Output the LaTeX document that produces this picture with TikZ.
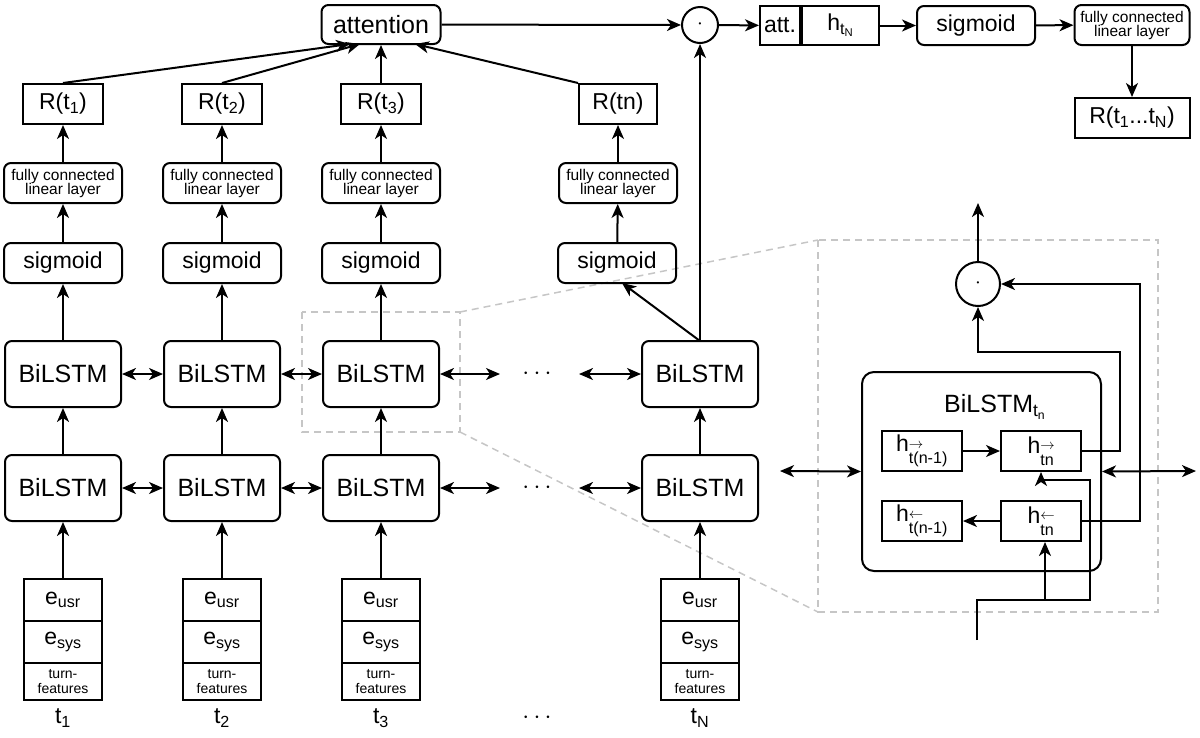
\documentclass[tikz,border=0pt]{standalone}
\usepackage{fontspec}
\setmainfont{Liberation Sans}
\usetikzlibrary{arrows.meta}
\begin{document}
\begin{tikzpicture}[x=1pt,y=-1pt,
 ar/.style={-{Stealth[length=14pt,width=12pt,inset=4pt]},line width=2pt},
 dar/.style={{Stealth[length=14pt,width=12pt,inset=4pt]}-{Stealth[length=14pt,width=12pt,inset=4pt]},line width=2pt},
 rb/.style={draw,line width=2pt,rounded corners=7pt,inner sep=0pt},
 sq/.style={draw,line width=2pt,inner sep=0pt},
 big/.style={font=\fontsize{25}{28}\selectfont},
 mid/.style={font=\fontsize{23}{26}\selectfont},
 sm/.style={font=\fontsize{15.5}{16}\selectfont,align=center},
 tfs/.style={font=\fontsize{14}{15}\selectfont,align=center},
 dsh/.style={draw=gray!45,line width=1.5pt,dash pattern=on 7pt off 5pt}]
\useasboundingbox (0,0) rectangle (1200,737);
% dashed zoom
\draw[dsh] (302,312) rectangle (460,432);
\draw[dsh] (818,240) rectangle (1158,612);
\draw[dsh] (460,312) -- (818,240);
\draw[dsh] (460,432) -- (818,612);
% columns
\foreach \i/\x/\lab in {1/63/1,2/222/2,3/381/3}{
 \node[rb,big,minimum width=116,minimum height=66] (bt\i) at (\x,374) {BiLSTM};
 \node[rb,big,minimum width=116,minimum height=66] (bb\i) at (\x,488) {BiLSTM};
 \node[rb,mid,minimum width=118,minimum height=40] (s\i) at (\x,263) {sigmoid};
 \node[rb,sm,minimum width=118,minimum height=40] (f\i) at (\x,183) {fully connected\\[-2pt]linear layer};
 \node[sq,mid,minimum width=80,minimum height=40] (r\i) at (\x,104) {R(t\textsubscript{\lab})};
 \node[sq,mid,minimum width=78,minimum height=42] (eu\i) at (\x,600) {e\textsubscript{usr}};
 \node[sq,mid,minimum width=78,minimum height=42] (es\i) at (\x,642) {e\textsubscript{sys}};
 \node[sq,tfs,minimum width=78,minimum height=37] (tf\i) at (\x,681.5) {turn-\\features};
 \node[mid] (t\i) at (\x,718) {t\textsubscript{\lab}};
}
\node[rb,big,minimum width=116,minimum height=66] (btN) at (700,374) {BiLSTM};
\node[rb,big,minimum width=116,minimum height=66] (bbN) at (700,488) {BiLSTM};
\node[rb,mid,minimum width=118,minimum height=40] (sN) at (617,263) {sigmoid};
\node[rb,sm,minimum width=118,minimum height=40] (fN) at (618,183) {fully connected\\[-2pt]linear layer};
\node[sq,mid,minimum width=78,minimum height=40] (rN) at (618,104) {R(tn)};
\node[sq,mid,minimum width=78,minimum height=42] (euN) at (700,600) {e\textsubscript{usr}};
\node[sq,mid,minimum width=78,minimum height=42] (esN) at (700,642) {e\textsubscript{sys}};
\node[sq,tfs,minimum width=78,minimum height=37] (tfN) at (700,681.5) {turn-\\features};
\node[mid] (tN) at (700,718) {t\textsubscript{N}};
\node[mid] (d1) at (537,374) {$\cdots$};
\node[mid] (d2) at (537,488) {$\cdots$};
\node[mid] (d3) at (537,718) {$\cdots$};
\foreach \i in {1,2,3,N}{
 \draw[ar] (eu\i) -- (bb\i);
 \draw[ar] (bb\i) -- (bt\i);
}
\foreach \i in {1,2,3}{
 \draw[ar] (bt\i) -- (s\i);
 \draw[ar] (s\i) -- (f\i);
 \draw[ar] (f\i) -- (r\i);
}
\draw[ar] (sN) -- (fN); \draw[ar] (fN) -- (rN);
\foreach \r in {bt,bb}{
 \draw[dar] (\r1) -- (\r2); \draw[dar] (\r2) -- (\r3);
 \draw[dar] (\r3.east) -- ++(60,0) coordinate (\r x);
 \draw[dar] (\r N.west) -- ++(-62,0);
}
% top
\node[rb,big,minimum width=119,minimum height=39] (att) at (381,24.5) {attention};
\node[circle,draw,line width=2pt,minimum size=36,inner sep=0pt,font=\fontsize{8}{8}\selectfont] (dot) at (700,25) {\textbullet};
\node[sq,mid,minimum width=40,minimum height=39] (atb) at (780,25.5) {att.};
\node[sq,mid,minimum width=77,minimum height=39,anchor=west] (htn) at (atb.east) {h\textsubscript{t\textsubscript{N}}};
\node[rb,mid,minimum width=118,minimum height=39] (s5) at (976,25.5) {sigmoid};
\node[rb,sm,minimum width=115,minimum height=40] (f5) at (1132,25) {fully connected\\[-2pt]linear layer};
\node[sq,mid,minimum width=115,minimum height=40] (r5) at (1132,118) {R(t\textsubscript{1}...t\textsubscript{N})};
\draw[ar] (r1.north) -- (350,44);
\draw[ar] (r2.north) -- (360,44);
\draw[ar] (r3) -- (att);
\draw[ar] (rN.north west) -- (415,44);
\draw[ar] (att) -- (dot);
\draw[ar] (btN) -- (dot);
\coordinate (sNin) at (622,283);
\draw[ar] (700,341) -- (sNin);
\draw[ar] (dot) -- (atb);
\draw[ar] (htn) -- (s5);
\draw[ar] (s5) -- (f5);
\draw[ar] (f5) -- (r5);
% inset
\node[circle,draw,line width=2pt,minimum size=44,inner sep=0pt,font=\fontsize{8}{8}\selectfont] (idot) at (978,284) {\textbullet};
\coordinate (itop) at (978,203);
\draw[ar] (idot) -- (itop);
\node[rb,minimum width=239,minimum height=199,rounded corners=12pt] (box) at (981.5,471.5) {};
\node[big] (bl) at (995,407) {BiLSTM\textsubscript{t\textsubscript{n}}};
\newcommand{\arrt}[1]{\makebox[0pt][l]{\raisebox{0.95em}{\fontsize{14}{14}\selectfont$#1$}}t}
\node[sq,mid,minimum width=80,minimum height=40] (hf1) at (922,451) {h\textsubscript{\arrt{\rightarrow}(n-1)}};
\node[sq,mid,minimum width=80,minimum height=40] (hf2) at (1041,451) {h\textsubscript{\arrt{\rightarrow}n}};
\node[sq,mid,minimum width=80,minimum height=40] (hb1) at (922,521) {h\textsubscript{\arrt{\leftarrow}(n-1)}};
\node[sq,mid,minimum width=80,minimum height=40] (hb2) at (1041,521) {h\textsubscript{\arrt{\leftarrow}n}};
\draw[ar] (hf1) -- (hf2);
\draw[ar] (hb2) -- (hb1);
\draw[dar] (780,471) -- (box.west);
\draw[dar] (box.east) -- (1196,471);
\draw[ar] (hf2.east) -| (1120,352) -| (idot.south);
\draw[ar] (hb2.east) -| (1140,284) -- (idot.east);
\coordinate (in) at (977,640);
\draw[ar] (in) |- (1045,600) -- (hb2.south -| 1045,0);
\draw[ar] (1045,600) -| (1090,480) -| (hf2.south);
\end{tikzpicture}
\end{document}
